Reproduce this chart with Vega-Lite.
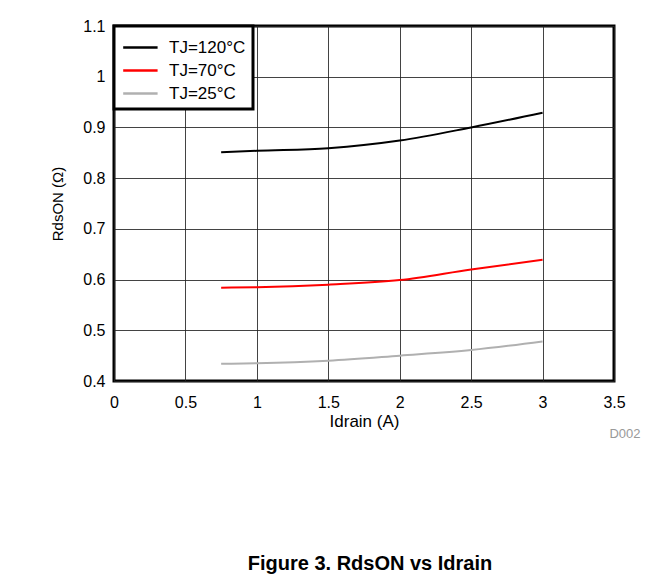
{
  "$schema": "https://vega.github.io/schema/vega-lite/v6.json",
  "width": 500,
  "height": 355,
  "autosize": {"type": "none"},
  "padding": {"left": 114, "top": 26, "right": 57, "bottom": 198},
  "background": "white",
  "config": {
    "font": "Liberation Sans",
    "view": {"stroke": "black", "strokeWidth": 3},
    "legend": {"strokeWidth": 3},
    "axis": {
      "domain": false,
      "ticks": false,
      "grid": true,
      "gridColor": "#222",
      "gridWidth": 1,
      "gridOpacity": 0.85,
      "labelFlush": false,
      "labelOverlap": false,
      "labelFont": "Liberation Sans",
      "labelFontSize": 16,
      "labelColor": "black",
      "titleFont": "Liberation Sans",
      "titleFontSize": 17,
      "titleFontWeight": "normal",
      "titleColor": "black"
    }
  },
  "title": {
    "text": "Figure 3. RdsON vs Idrain",
    "orient": "bottom",
    "anchor": "middle",
    "frame": "group",
    "font": "Liberation Sans",
    "fontSize": 20,
    "fontWeight": "bold",
    "color": "black",
    "offset": 113,
    "dx": 6
  },
  "data": {
    "values": [
      {"series": "TJ=120°C", "idrain": 0.75, "rds": 0.851},
      {"series": "TJ=120°C", "idrain": 1.0, "rds": 0.854},
      {"series": "TJ=120°C", "idrain": 1.5, "rds": 0.859},
      {"series": "TJ=120°C", "idrain": 2.0, "rds": 0.874},
      {"series": "TJ=120°C", "idrain": 2.5, "rds": 0.90},
      {"series": "TJ=120°C", "idrain": 3.0, "rds": 0.929},
      {"series": "TJ=70°C", "idrain": 0.75, "rds": 0.584},
      {"series": "TJ=70°C", "idrain": 1.0, "rds": 0.585},
      {"series": "TJ=70°C", "idrain": 1.5, "rds": 0.59},
      {"series": "TJ=70°C", "idrain": 2.0, "rds": 0.599},
      {"series": "TJ=70°C", "idrain": 2.5, "rds": 0.62},
      {"series": "TJ=70°C", "idrain": 3.0, "rds": 0.639},
      {"series": "TJ=25°C", "idrain": 0.75, "rds": 0.434},
      {"series": "TJ=25°C", "idrain": 1.0, "rds": 0.435},
      {"series": "TJ=25°C", "idrain": 1.5, "rds": 0.44},
      {"series": "TJ=25°C", "idrain": 2.0, "rds": 0.45},
      {"series": "TJ=25°C", "idrain": 2.5, "rds": 0.461},
      {"series": "TJ=25°C", "idrain": 3.0, "rds": 0.478}
    ]
  },
  "layer": [
    {
      "mark": {"type": "line", "strokeWidth": 2, "interpolate": "monotone"},
      "encoding": {
        "x": {
          "field": "idrain",
          "type": "quantitative",
          "title": "Idrain (A)",
          "scale": {"domain": [0, 3.5], "nice": false},
          "axis": {"values": [0, 0.5, 1, 1.5, 2, 2.5, 3, 3.5], "format": "~g", "labelPadding": 13, "titlePadding": 3}
        },
        "y": {
          "field": "rds",
          "type": "quantitative",
          "title": "RdsON (Ω)",
          "scale": {"domain": [0.4, 1.1], "nice": false, "zero": false},
          "axis": {"values": [0.4, 0.5, 0.6, 0.7, 0.8, 0.9, 1, 1.1], "format": "~g", "labelPadding": 9, "titlePadding": 17, "titleFontSize": 15}
        },
        "color": {
          "field": "series",
          "type": "nominal",
          "scale": {"domain": ["TJ=120°C", "TJ=70°C", "TJ=25°C"], "range": ["#000000", "#ff0000", "#b0b0b0"]},
          "legend": {
            "title": null,
            "orient": "top-left",
            "offset": 0,
            "symbolType": "M-0.93,0H1.67",
            "symbolSize": 700,
            "symbolStrokeWidth": 2.5,
            "labelFont": "Liberation Sans",
            "labelFontSize": 17,
            "labelColor": "black",
            "labelOffset": 19,
            "rowPadding": 0,
            "padding": 7,
            "strokeColor": "black",
            "fillColor": "white"
          }
        }
      }
    },
    {
      "data": {"values": [{"label": "D002", "idrain": 3.5, "rds": 0.4}]},
      "mark": {"type": "text", "color": "#999999", "fontSize": 13, "font": "Liberation Sans", "align": "center", "baseline": "middle", "dx": 11, "dy": 53, "clip": false},
      "encoding": {
        "x": {"field": "idrain", "type": "quantitative"},
        "y": {"field": "rds", "type": "quantitative"},
        "text": {"field": "label", "type": "nominal"}
      }
    }
  ]
}
